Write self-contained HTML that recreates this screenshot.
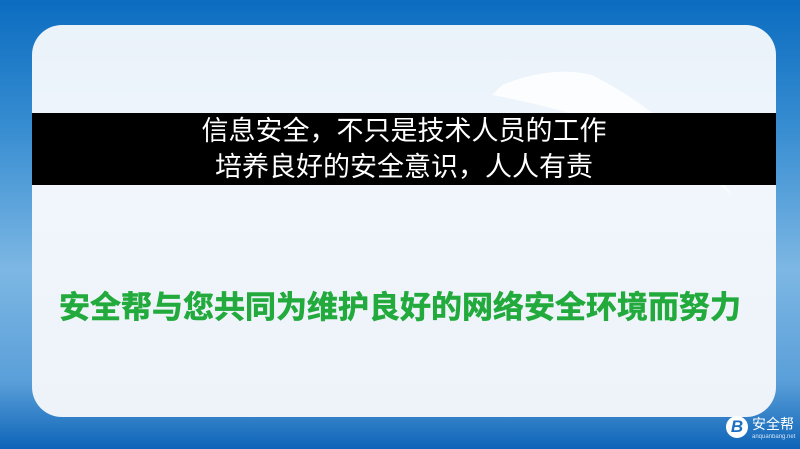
<!DOCTYPE html>
<html><head><meta charset="utf-8"><style>
body{margin:0;width:800px;height:449px;overflow:hidden;font-family:"Liberation Sans","Noto Sans CJK SC",sans-serif}
#bg{position:absolute;left:0;top:0;width:800px;height:449px;background:linear-gradient(180deg,#0b6cc0 0%,#3a8fd2 30%,#7db7e4 60%,#5a9fd9 85%,#0e64b8 100%)}
#panel{position:absolute;left:32px;top:25px;width:744px;height:392px;border-radius:30px;background:linear-gradient(180deg,#eaf2fa,#f0f6fc 40%,#eef3fa);overflow:hidden}
#band{position:absolute;left:32px;top:113px;width:744px;height:72px;background:#000;color:#fff;text-align:center;font-size:27px;line-height:36px;box-sizing:border-box}
#slogan{position:absolute;left:0;width:800px;top:282px;text-align:center;color:#22aa3c;font-size:31px;font-weight:bold;letter-spacing:0;-webkit-text-stroke:0.6px #22aa3c}
#logo{position:absolute;left:728px;top:414px;color:#fff;font-size:14px}
#logo small{display:block;font-size:6px;opacity:.8}
#bmark{position:absolute;left:726px;top:416px;width:22px;height:22px;border-radius:50%;background:#fff;color:#1b6fc2;font-weight:bold;font-style:italic;font-size:17px;text-align:center;line-height:22px}
</style></head><body>
<div id="bg"></div>
<div id="panel">
<svg width="744" height="392"><path d="M470 60 Q520 40 560 50 Q640 90 700 170 Q620 100 460 70 Z" fill="#fff" opacity=".8"/><path d="M420 110 Q520 90 640 120 L660 160 Q540 110 420 130Z" fill="#fff" opacity=".7"/></svg>
</div>
<div id="band">信息安全，不只是技术人员的工作<br>培养良好的安全意识，人人有责</div>
<div id="slogan">安全帮与您共同为维护良好的网络安全环境而努力</div>
<div id="bmark">B</div>
<div id="logo" style="left:752px">安全帮<small>anquanbang.net</small></div>
</body></html>
